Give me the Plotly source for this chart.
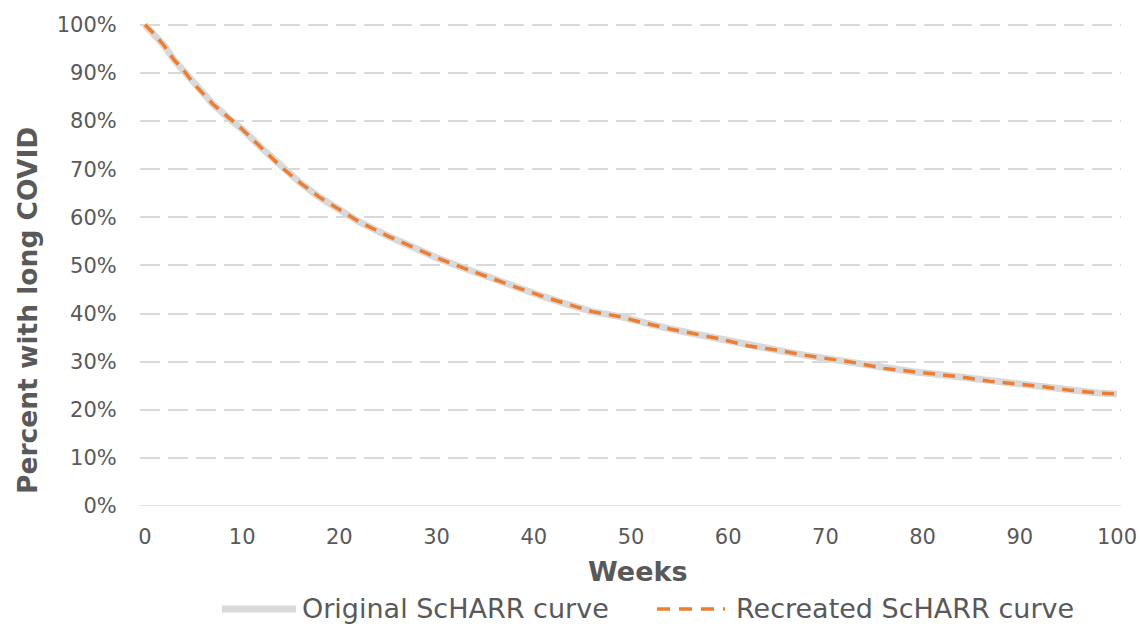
import plotly.graph_objects as go

weeks = [0, 1, 2, 3, 4, 5, 7, 9, 10, 12, 14, 16, 18, 20, 22, 25, 28, 30, 33, 35, 38,
         41, 43, 46, 49, 51, 54, 57, 59, 62, 65, 68, 70, 73, 76, 79, 81, 84, 87,
         90, 92, 95, 98, 100]
pct = [100, 98.0, 95.6, 92.7, 90.5, 87.8, 83.5, 79.9, 78.3, 74.4, 70.5, 67.1, 64.1,
       61.6, 59.1, 56.1, 53.4, 51.6, 49.3, 47.8, 45.6, 43.5, 42.2, 40.4, 39.3, 38.2,
       36.8, 35.6, 34.8, 33.3, 32.4, 31.3, 30.7, 29.8, 28.6, 27.9, 27.5, 26.8,
       25.9, 25.4, 24.9, 24.1, 23.5, 23.3]
original = [v / 100 for v in pct]
recreated = [v / 100 for v in pct]

series_names = ["Original ScHARR curve", "Recreated ScHARR curve"]
x_ticks = [0, 10, 20, 30, 40, 50, 60, 70, 80, 90, 100]
y_ticks = [0, 0.1, 0.2, 0.3, 0.4, 0.5, 0.6, 0.7, 0.8, 0.9, 1.0]
y_labels = ["0%", "10%", "20%", "30%", "40%", "50%", "60%", "70%", "80%", "90%", "100%"]

GRAY = "#d9d9d9"
ORANGE = "#ED7D31"
TXT = "#595959"
FONT = "DejaVu Sans"

fig = go.Figure()
fig.add_trace(go.Scatter(x=weeks, y=original, mode="lines", name=series_names[0],
                         line=dict(color=GRAY, width=7), showlegend=False))
fig.add_trace(go.Scatter(x=weeks, y=recreated, mode="lines", name=series_names[1],
                         line=dict(color=ORANGE, width=3.5, dash="12px,8px"),
                         showlegend=False))

fig.update_layout(
    width=1140, height=624,
    margin=dict(l=140, r=19, t=20, b=118),
    paper_bgcolor="white", plot_bgcolor="white",
    font=dict(family=FONT, color=TXT, size=21),
    xaxis=dict(range=[-0.51, 100.41], tickvals=x_ticks, showgrid=False,
               zeroline=False, showline=False, ticks="outside", ticklen=12,
               tickcolor="rgba(0,0,0,0)", tickfont=dict(size=21, color=TXT),
               automargin=False),
    yaxis=dict(range=[0, 1.01], tickvals=y_ticks, ticktext=y_labels,
               showgrid=True, gridcolor=GRAY, gridwidth=1.5, griddash="20px,8px",
               zeroline=False, showline=False, ticks="outside", ticklen=18,
               tickcolor="rgba(0,0,0,0)", tickfont=dict(size=21, color=TXT),
               automargin=False),
)

# solid baseline at 0%
fig.add_shape(type="line", xref="paper", yref="y", x0=0, x1=1, y0=0, y1=0,
              line=dict(color=GRAY, width=1.5))

# axis titles (paper coords relative to plot area)
fig.add_annotation(text="<b>Percent with long COVID</b>", xref="paper", yref="paper",
                   x=-0.1142, y=0.4033, xanchor="center", yanchor="middle",
                   textangle=-90, showarrow=False,
                   font=dict(size=26.5, color=TXT, family=FONT))
fig.add_annotation(text="<b>Weeks</b>", xref="paper", yref="paper",
                   x=0.5076, y=-0.1358, xanchor="center", yanchor="middle",
                   showarrow=False, font=dict(size=27, color=TXT, family=FONT))

# custom legend
LEG_Y = -0.2119
fig.add_shape(type="line", xref="paper", yref="paper", x0=0.0836, x1=0.159,
              y0=LEG_Y, y1=LEG_Y, line=dict(color=GRAY, width=7))
fig.add_annotation(text=series_names[0], xref="paper", yref="paper", x=0.1631,
                   y=LEG_Y, xanchor="left", yanchor="middle", showarrow=False,
                   font=dict(size=27, color=TXT, family=FONT))
fig.add_shape(type="line", xref="paper", yref="paper", x0=0.527, x1=0.5963,
              y0=LEG_Y, y1=LEG_Y,
              line=dict(color=ORANGE, width=3.5, dash="13px,9px"))
fig.add_annotation(text=series_names[1], xref="paper", yref="paper", x=0.6055,
                   y=LEG_Y, xanchor="left", yanchor="middle", showarrow=False,
                   font=dict(size=27, color=TXT, family=FONT))

fig.write_html("out.html")
